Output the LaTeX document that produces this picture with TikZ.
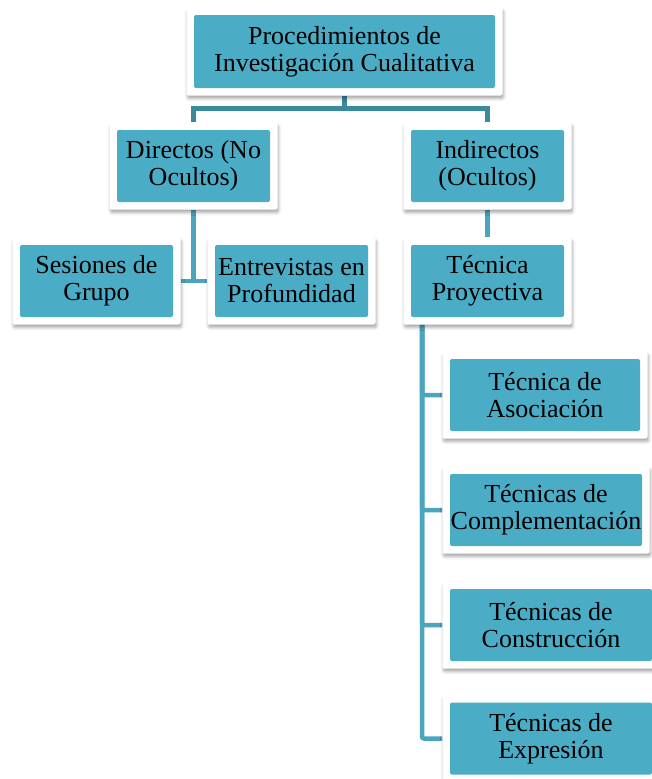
\documentclass[tikz,border=0pt]{standalone}
\usepackage{fontspec}
\setmainfont{Liberation Serif}
\usetikzlibrary{backgrounds,shadows.blur}
\definecolor{boxblue}{HTML}{4BACC6}
\definecolor{linkdark}{HTML}{3A8A9E}
\definecolor{linklight}{HTML}{4BA5BE}
\tikzset{
  box/.style={fill=white, rounded corners=2pt, inner sep=0pt, minimum height=87pt,
    align=center, font=\fontsize{26}{27}\selectfont,
    blur shadow={shadow xshift=1pt, shadow yshift=-3pt, shadow blur radius=3pt, shadow opacity=35},
    path picture={\fill[boxblue] ([shift={(7.5pt,7.5pt)}]path picture bounding box.south west)
      rectangle ([shift={(-7.5pt,-7.5pt)}]path picture bounding box.north east);}},
  link/.style={draw=linklight, line width=4.5pt},
}
\begin{document}
\begin{tikzpicture}[x=1pt, y=-1pt]
      \useasboundingbox (0, 0) rectangle (652, 779);
      \clip (0, 0) rectangle (652, 779);

      \draw (344.5, 51.5) node[box, minimum width=316pt, minimum height=88pt] (proc) {Procedimientos de\\Investigación Cualitativa};

      \draw (193.5, 166) node[box, minimum width=168pt] (dir) {Directos (No\\Ocultos)};
      \draw (487.5, 166) node[box, minimum width=168pt] (ind) {Indirectos\\(Ocultos)};

      \draw (96.5, 281) node[box, minimum width=168pt] (ses) {Sesiones de\\Grupo};
      \draw (291.5, 281) node[box, minimum width=168pt] (ent) {Entrevistas en\\Profundidad};
      \draw (487.5, 281) node[box, minimum width=168pt] (proy) {Técnica\\Proyectiva};

      \draw (545, 395) node[box, minimum width=205pt] (aso) {Técnica de\\Asociación};
      \draw (546, 510) node[box, minimum width=207pt] (comp) {Técnicas de\\Complementación};
      \draw (551, 625) node[box, minimum width=217pt] (cons) {Técnicas de\\Construcción};
      \draw (551, 738.5) node[box, minimum width=217pt] (expr) {Técnicas de\\Expresión};

      \begin{scope}[on background layer]
        \draw [link, draw=linkdark] (proc.south) -- ++(0, 13) -| (dir.north);
        \draw [link, draw=linkdark] (proc.south) -- ++(0, 13) -| (ind.north);
        \draw [link] (dir.south) |- (ses.east);
        \draw [link] (dir.south) |- (ent.west);
        \draw [link] (ind.south) -- (proy.north);
        \foreach \tec in {aso, comp, cons, expr}
          \draw [link, rounded corners=2pt] ([xshift=-65.5pt]proy.south) |- (\tec.west);
      \end{scope}
    \end{tikzpicture}
\end{document}
